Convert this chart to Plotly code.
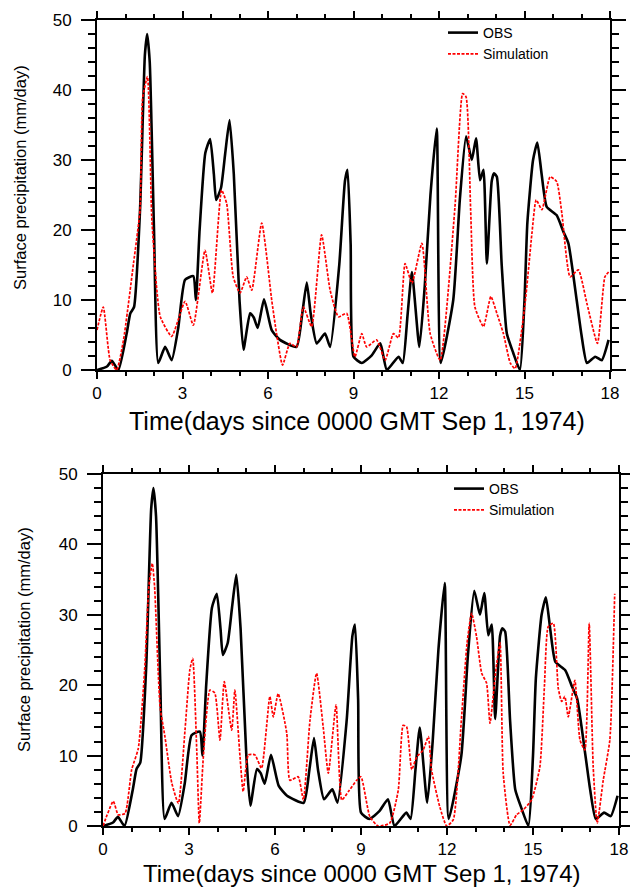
import plotly.graph_objects as go

# ---------------- data ----------------
obs_day = [0, 0.35, 0.52, 0.75, 1.04, 1.17, 1.3, 1.51, 1.68, 1.76, 1.85, 2.0, 2.15,
           2.39, 2.62, 2.85, 3.09, 3.38, 3.47, 3.6, 3.8, 3.97, 4.1, 4.18, 4.35, 4.5,
           4.65, 4.8, 5.0, 5.14, 5.37, 5.5, 5.64, 5.86, 6.13, 6.42, 7.0, 7.2, 7.36,
           7.5, 7.71, 8.0, 8.18, 8.5, 8.7, 8.79, 8.9, 9.0, 9.29, 9.64, 9.94, 10.17,
           10.58, 10.73, 10.9, 11.05, 11.31, 11.5, 11.7, 11.92, 12.06, 12.5, 12.73,
           12.95, 13.15, 13.3, 13.44, 13.56, 13.68, 13.85, 13.93, 14.03, 14.2, 14.38,
           14.6, 14.84, 15.0, 15.1, 15.3, 15.45, 15.6, 15.78, 16.13, 16.36, 16.54,
           16.83, 17.0, 17.19, 17.48, 17.71, 17.95]
obs_val = [0, 0.5, 1.3, 0, 5.2, 8.1, 9, 22.9, 45, 48, 44, 20, 1,
           3.3, 1.4, 6, 12.9, 13.4, 10, 20, 31, 33, 28, 24.3, 26, 31,
           35.7, 28, 10, 2.9, 8.1, 7.5, 6, 10.1, 5.7, 4.3, 3.3, 8, 12.5,
           8, 3.8, 5.2, 3.3, 15, 27, 28.6, 18, 1.9, 1, 2.1, 3.8, 0,
           1.9, 1, 8, 14, 3.3, 12, 25, 34.5, 1, 10, 24.3,
           33.4, 30, 33.1, 27.1, 28.6, 15.2, 27, 28.1, 27.6, 15, 5.2,
           2.5, 0, 10, 21, 30, 32.5, 28, 23.3, 22.1, 19.8, 18.1,
           10, 5, 1, 1.9, 1.4, 4.3]

sim1_day = [0, 0.22, 0.46, 0.69, 0.93, 1.28, 1.51, 1.6, 1.77, 1.92, 2.1, 2.22, 2.62,
            3.09, 3.38, 3.79, 4.05, 4.37, 4.55, 4.78, 5.02, 5.25, 5.43, 5.78, 6.13,
            6.3, 6.51, 6.77, 7.0, 7.24, 7.53, 7.88, 8.18, 8.47, 8.76, 9.05, 9.29,
            9.46, 9.81, 10.11, 10.4, 10.58, 10.81, 11.05, 11.4, 11.69, 12.04, 12.56,
            12.83, 12.95, 13.11, 13.26, 13.56, 13.82, 14.03, 14.26, 14.5, 14.67,
            15.02, 15.26, 15.41, 15.61, 15.9, 16.13, 16.31, 16.6, 16.89, 17.19,
            17.56, 17.82, 17.95]
sim1_val = [5.7, 9, 1.4, 0, 4.3, 15.2, 22.9, 38.8, 41.9, 21.9, 11.4, 7.6, 4.8,
            9.8, 6.4, 17.1, 11, 25.7, 23.8, 13.3, 11, 13.3, 11.4, 21, 10,
            5.2, 0.7, 3.8, 3.3, 9, 6.2, 19.3, 11.4, 7.6, 8.1, 1.9, 5.2,
            3.3, 4.3, 1.4, 5.2, 4.6, 15.2, 12.4, 18.1, 5.2, 1.4, 23.3,
            39.5, 39, 22.9, 9, 6.2, 10.5, 8.1, 5.2, 1, 0.2,
            9.5, 19.5, 24.3, 22.9, 27.6, 26.9, 22.4, 13.3, 14.3, 9.5,
            3.8, 13.3, 14]

sim2_day = [0, 0.36, 0.53, 0.77, 1.0, 1.23, 1.45, 1.6, 1.72, 1.8, 1.99, 2.16, 2.4,
            2.63, 2.86, 3.03, 3.13, 3.27, 3.36, 3.5, 3.73, 3.9, 4.08, 4.23, 4.49,
            4.6, 4.78, 4.89, 5.07, 5.3, 5.53, 5.82, 5.94, 6.11, 6.41, 6.52, 6.81,
            6.99, 7.22, 7.45, 7.68, 7.86, 8.13, 8.33, 8.56, 8.85, 9.0, 9.31, 9.6,
            10.0, 10.3, 10.47, 10.59, 10.77, 10.94, 11.17, 11.35, 11.46, 11.75,
            11.99, 12.22, 12.5, 12.7, 12.86, 13.03, 13.21, 13.38, 13.5, 13.7, 13.85,
            13.96, 14.2, 14.43, 14.66, 14.95, 15.24, 15.4, 15.53, 15.71, 15.88, 16.0,
            16.11, 16.23, 16.46, 16.64, 16.81, 16.96, 17.1, 17.24, 17.45, 17.68, 17.85]
sim2_val = [0, 3.5, 1.6, 1.8, 8, 11, 22, 34, 37.3, 34, 17, 12.7, 6.1,
            3.2, 13.6, 22.2, 23.8, 10.8, 0.4, 9.8, 19.3, 18.9, 12.2, 20.5, 13.6,
            19.3, 9.8, 4.9, 10.1, 10.1, 8.2, 18.4, 15.5, 18.8, 13.2, 6.5, 7,
            3.7, 15, 21.7, 14.1, 7.5, 17.2, 3.7, 4.9, 6.5, 7, 1.3, 0,
            0.4, 5.1, 14.3, 14.1, 8, 9.8, 10.8, 12.7, 8, 2.7,
            0, 0.9, 15, 26, 30.2, 26.9, 21.7, 20.3, 14.6, 22, 26,
            7.5, 0.1, 1.6, 2.3, 3.7, 8.4, 20, 28.3, 28.8, 19.6, 17.7,
            18.4, 15.5, 20.7, 12.2, 10.8, 28.8, 8.4, 0.4, 6.5, 12.2, 33]

x_ticks = [0, 3, 6, 9, 12, 15, 18]
y_ticks = [0, 10, 20, 30, 40, 50]
x_title = "Time(days since 0000 GMT Sep 1, 1974)"
y_title = "Surface precipitation (mm/day)"

W, H = 630, 887
FONT = "Liberation Sans, Arial, Helvetica, sans-serif"

fig = go.Figure()

obs_line = dict(color="black", width=2.6, shape="spline", smoothing=0.5)
sim_line = dict(color="#ff0000", width=1.7, dash="3px,1.5px", shape="spline", smoothing=0.5)

fig.add_trace(go.Scatter(x=obs_day, y=obs_val, mode="lines", name="OBS", line=obs_line,
                         xaxis="x", yaxis="y", legend="legend"))
fig.add_trace(go.Scatter(x=sim1_day, y=sim1_val, mode="lines", name="Simulation", line=sim_line,
                         xaxis="x", yaxis="y", legend="legend"))
fig.add_trace(go.Scatter(x=obs_day, y=obs_val, mode="lines", name="OBS", line=obs_line,
                         xaxis="x2", yaxis="y2", legend="legend2"))
fig.add_trace(go.Scatter(x=sim2_day, y=sim2_val, mode="lines", name="Simulation", line=sim_line,
                         xaxis="x2", yaxis="y2", legend="legend2"))


def xa(domain, anchor):
    return dict(domain=domain, anchor=anchor, range=[0, 18], tickvals=x_ticks,
                ticks="outside", ticklen=7, tickwidth=2, tickcolor="black",
                showline=True, linewidth=2, linecolor="black", mirror="ticks",
                showgrid=False, zeroline=False,
                minor=dict(dtick=1, ticks="outside", ticklen=4, tickwidth=1.5, tickcolor="black", showgrid=False),
                tickfont=dict(family=FONT, size=17, color="black"), automargin=False)


def ya(domain, anchor):
    return dict(domain=domain, anchor=anchor, range=[0, 50], tickvals=y_ticks,
                ticks="outside", ticklen=14, tickwidth=2, tickcolor="black",
                showline=True, linewidth=2, linecolor="black", mirror="ticks",
                showgrid=False, zeroline=False, ticklabelstandoff=6,
                minor=dict(dtick=2, ticks="outside", ticklen=7, tickwidth=1.5, tickcolor="black", showgrid=False),
                tickfont=dict(family=FONT, size=17, color="black"), automargin=False)


# pixel boxes of the two panels
t_l, t_r, t_top, t_bot = 97, 610, 20, 370
b_l, b_r, b_top, b_bot = 103, 619, 474, 826

fig.update_layout(
    width=W, height=H,
    margin=dict(l=0, r=0, t=0, b=0),
    paper_bgcolor="white", plot_bgcolor="white",
    showlegend=True,
    xaxis=xa([t_l / W, t_r / W], "y"),
    yaxis=ya([1 - t_bot / H, 1 - t_top / H], "x"),
    xaxis2=xa([b_l / W, b_r / W], "y2"),
    yaxis2=ya([1 - b_bot / H, 1 - b_top / H], "x2"),
    legend=dict(x=443 / W, y=1 - 17 / H, xanchor="left", yanchor="top",
                bgcolor="rgba(0,0,0,0)", font=dict(family=FONT, size=14, color="black"),
                itemwidth=30, tracegroupgap=0),
    legend2=dict(x=449 / W, y=1 - 473 / H, xanchor="left", yanchor="top",
                 bgcolor="rgba(0,0,0,0)", font=dict(family=FONT, size=14, color="black"),
                 itemwidth=30, tracegroupgap=0),
    annotations=[
        dict(text=x_title, x=357 / W, y=1 - 421 / H, xref="paper", yref="paper",
             xanchor="center", yanchor="middle",
             showarrow=False, font=dict(family=FONT, size=25, color="black")),
        dict(text=x_title, x=362 / W, y=1 - 873 / H, xref="paper", yref="paper",
             xanchor="center", yanchor="middle",
             showarrow=False, font=dict(family=FONT, size=24, color="black")),
        dict(text=y_title, x=20 / W, y=1 - 178 / H, xref="paper", yref="paper",
             xanchor="center", yanchor="middle",
             showarrow=False, textangle=-90,
             font=dict(family=FONT, size=16.5, color="black")),
        dict(text=y_title, x=24 / W, y=1 - 640 / H, xref="paper", yref="paper",
             xanchor="center", yanchor="middle",
             showarrow=False, textangle=-90,
             font=dict(family=FONT, size=16.5, color="black")),
    ],
)

fig.write_html("out.html")
